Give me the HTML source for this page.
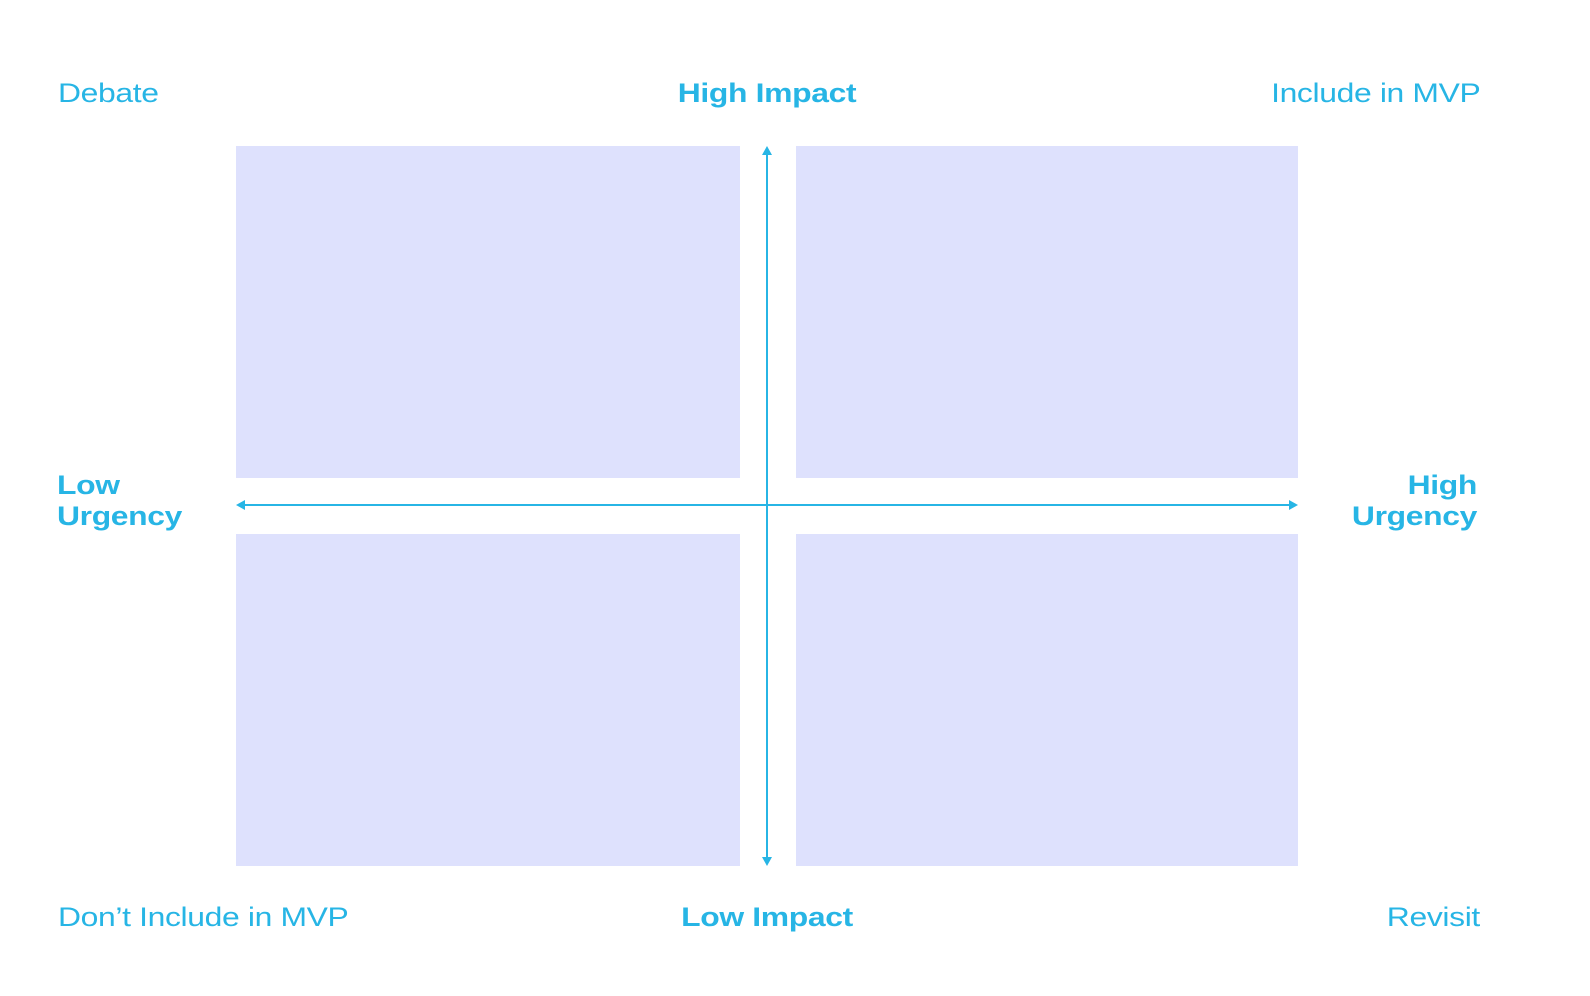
<!DOCTYPE html>
<html><head><style>
html,body{margin:0;padding:0;background:#fff;}
body{width:1590px;height:996px;position:relative;overflow:hidden;font-family:"Liberation Sans",sans-serif;color:#27b5e5;}
.b{position:absolute;background:#dee1fd;}
.t{position:absolute;font-size:27px;line-height:31px;white-space:nowrap;letter-spacing:-0.3px;transform:scaleX(1.18);}
.l{transform-origin:left center;}
.r{transform-origin:right center;}
.c{transform-origin:center center;}
.bold{font-weight:bold;}
</style></head><body>
<div class="b" style="left:236px;top:146px;width:504px;height:332px"></div>
<div class="b" style="left:796px;top:146px;width:502px;height:332px"></div>
<div class="b" style="left:236px;top:534px;width:504px;height:332px"></div>
<div class="b" style="left:796px;top:534px;width:502px;height:332px"></div>
<svg width="1590" height="996" style="position:absolute;left:0;top:0">
<g stroke="#27b5e5" stroke-width="2" fill="#27b5e5">
<line x1="767" y1="152" x2="767" y2="860"/>
<line x1="242" y1="505" x2="1292" y2="505"/>
<polygon points="767,146 762,155 772,155" stroke="none"/>
<polygon points="767,866 762,857 772,857" stroke="none"/>
<polygon points="236,505 245,500 245,510" stroke="none"/>
<polygon points="1298,505 1289,500 1289,510" stroke="none"/>
</g></svg>
<div class="t l" style="left:58px;top:78px">Debate</div>
<div class="t bold c" style="left:667px;width:200px;text-align:center;top:78px">High Impact</div>
<div class="t r" style="right:110px;top:78px">Include in MVP</div>
<div class="t bold l" style="left:57px;top:470px;line-height:31px">Low<br>Urgency</div>
<div class="t bold r" style="right:113px;top:470px;text-align:right;line-height:31px">High<br>Urgency</div>
<div class="t l" style="left:58px;top:902px">Don’t Include in MVP</div>
<div class="t bold c" style="left:667px;width:200px;text-align:center;top:902px">Low Impact</div>
<div class="t r" style="right:110px;top:902px">Revisit</div>
</body></html>
